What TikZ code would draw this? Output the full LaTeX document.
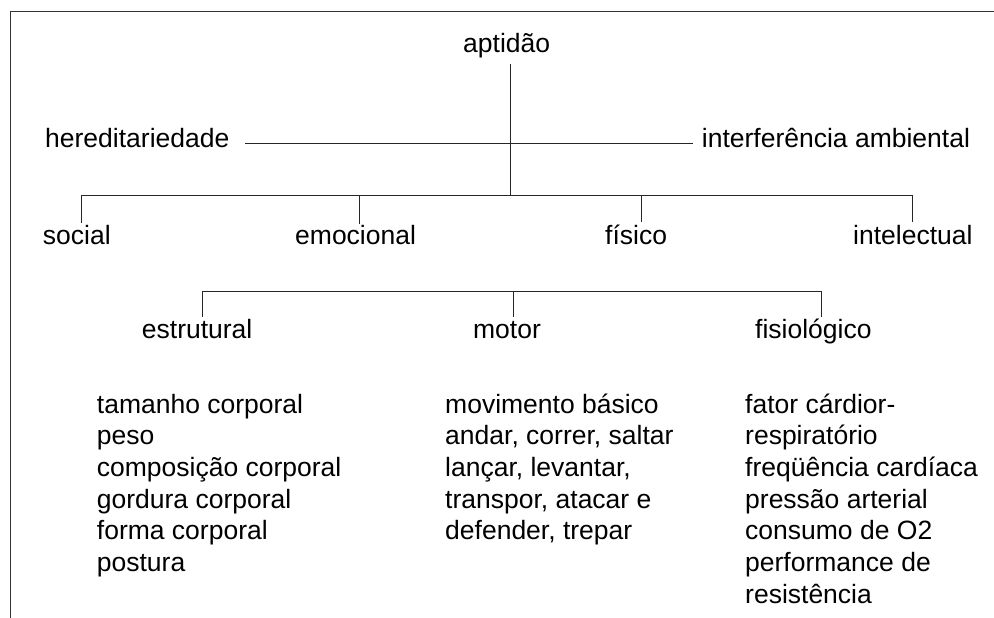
\documentclass[tikz,border=0pt]{standalone}
\usepackage{fontspec}
\setmainfont{Liberation Sans}
\begin{document}
\begin{tikzpicture}[x=1pt,y=-1pt,
  txt/.style={inner sep=0pt, font=\fontsize{26.5}{31.7}\selectfont, anchor=base west},
  ctxt/.style={txt, anchor=base},
  ln/.style={line width=1pt, draw=black!85},
  frame/.style={line width=1.5pt, draw=black!80}]
\useasboundingbox (0,0) rectangle (994,618);
% frame
\coordinate (fbl) at (10.5,618);
\coordinate (ftl) at (10.5,11.5);
\coordinate (ftr) at (994,11.5);
\draw[frame] (fbl) -- (ftl) -- (ftr);

% top level
\node[ctxt] (apt) at (506.7,52.5) {aptidão};
\node[txt] (her) at (45,147) {hereditariedade};
\node[txt] (amb) at (701.7,147) {interferência ambiental};

\node[txt] (soc) at (42.7,244) {social};
\node[txt] (emo) at (295,244) {emocional};
\node[txt] (fis) at (605,244) {físico};
\node[txt] (int) at (853,244) {intelectual};

\node[txt] (est) at (141.7,338.5) {estrutural};
\node[ctxt] (mot) at (507,338.5) {motor};
\node[txt] (fsl) at (755,338.5) {fisiológico};

% connectors, first tree
\coordinate (aptb) at (510.7,64);
\coordinate (j1) at (510.7,195.7);
\draw[ln] (aptb) -- (j1);
\coordinate (herE) at (245,143.5);
\coordinate (ambW) at (693,143.5);
\draw[ln] (herE) -- (ambW);
\coordinate (socT) at (81.7,223);
\coordinate (emoT) at (359,224);
\coordinate (fisT) at (641.7,222);
\coordinate (intT) at (912.7,222);
\draw[ln] (socT) |- (j1);
\draw[ln] (intT) |- (j1);
\draw[ln] (emoT) -- (emoT |- j1);
\draw[ln] (fisT) -- (fisT |- j1);

% second tree
\coordinate (j2) at (513,291.7);
\coordinate (estT) at (202.7,317);
\coordinate (motT) at (513,317);
\coordinate (fslT) at (821,317);
\draw[ln] (estT) |- (j2);
\draw[ln] (fslT) |- (j2);
\draw[ln] (motT) -- (j2);

% lists
\foreach \t [count=\i] in {{tamanho corporal},{peso},{composição corporal},{gordura corporal},{forma corporal},{postura}}
  \node[txt] (estl\i) at (96.7,{413+(\i-1)*31.7}) {\t};
\foreach \t [count=\i] in {{movimento básico},{andar, correr, saltar},{lançar, levantar,},{transpor, atacar e},{defender, trepar}}
  \node[txt] (motl\i) at (445,{413+(\i-1)*31.7}) {\t};
\foreach \t [count=\i] in {{fator cárdior-},{respiratório},{freqüência cardíaca},{pressão arterial},{consumo de O2},{performance de},{resistência}}
  \node[txt] (fsll\i) at (745,{413+(\i-1)*31.7}) {\t};
\end{tikzpicture}
\end{document}
